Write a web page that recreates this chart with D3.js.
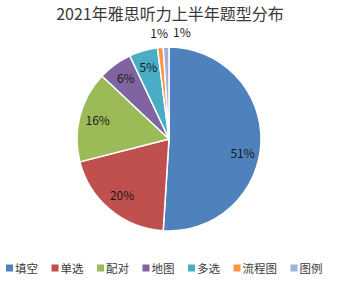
<!DOCTYPE html>
<html>
<head>
<meta charset="utf-8">
<script src="https://cdn.jsdelivr.net/npm/d3@7"></script>
<style>
  html, body { margin: 0; padding: 0; background: #fff; }
  svg { display: block; font-family: "Noto Sans CJK SC", "Noto Sans", sans-serif; }
</style>
</head>
<body>
<svg id="chart" width="344" height="281"></svg>
<script>
//---DATA
var title = '2021年雅思听力上半年题型分布';
var categories = ['填空', '单选', '配对', '地图', '多选', '流程图', '图例'];
var shares = [51, 20, 16, 6, 5, 1, 1];
var colors = ['#4F81BD', '#C0504D', '#9BBB59', '#8064A2', '#4BACC6', '#F79646', '#9DB3DA'];

(function() {
  'use strict';

  var cx = 169,
    cy = 139,
    r = 92;

  var svg = d3.select('#chart');

  //---TITLE
  svg.append('text')
    .attr('x', 170)
    .attr('y', 20)
    .attr('text-anchor', 'middle')
    .style('font-size', '16px')
    .style('fill', '#3a3a3a')
    .text(title);

  //---PIE
  var data = categories.map(function(c, i) {
    return { name: c, value: shares[i], color: colors[i] };
  });

  var pie = d3.pie()
    .value(function(d) { return d.value; })
    .sort(null);

  var arcs = pie(data);

  var arc = d3.arc().innerRadius(0).outerRadius(r);
  var arc_in = d3.arc().innerRadius(r * 0.8).outerRadius(r * 0.8);
  var arc_out = d3.arc().innerRadius(r * 1.15).outerRadius(r * 1.15);

  var pie_g = svg.append('g')
    .attr('transform', 'translate(' + cx + ',' + cy + ')');

  pie_g.selectAll('path')
    .data(arcs)
    .enter()
    .append('path')
    .attr('d', arc)
    .style('fill', function(d) { return d.data.color; })
    .style('stroke', '#fff')
    .style('stroke-width', 1.5);

  //---LABELS (small slices go outside, spread left/right of the top)
  var out_count = 0;
  pie_g.selectAll('text.lbl')
    .data(arcs)
    .enter()
    .append('text')
    .attr('class', 'lbl')
    .each(function(d) {
      var t = d3.select(this);
      var p;
      if (d.data.value < 3) {
        p = arc_out.centroid(d);
        var left = out_count % 2 === 0;
        t.attr('x', left ? -1 : 4)
          .attr('y', p[1] + 4)
          .attr('text-anchor', left ? 'end' : 'start');
        out_count++;
      } else {
        p = arc_in.centroid(d);
        // biggest slice label sits a bit lower (excel best fit)
        if (d.endAngle - d.startAngle > Math.PI) p[1] += 13;
        t.attr('x', p[0])
          .attr('y', p[1] + 4)
          .attr('text-anchor', 'middle');
      }
    })
    .style('font-size', '12px')
    .style('fill', '#1a1a1a')
    .text(function(d) { return d.data.value + '%'; });

  //---LEGEND
  var leg_g = svg.append('g')
    .attr('transform', 'translate(6,272)');

  var xpos = 0;
  data.forEach(function(d) {
    var item = leg_g.append('g')
      .attr('transform', 'translate(' + xpos + ',0)');
    item.append('rect')
      .attr('x', 0)
      .attr('y', -7.5)
      .attr('width', 7)
      .attr('height', 7)
      .style('fill', d.color);
    var txt = item.append('text')
      .attr('x', 9)
      .attr('y', 1)
      .style('font-size', '11.5px')
      .style('fill', '#3a3a3a')
      .text(d.name);
    xpos += 9 + txt.node().getComputedTextLength() + 13.5;
  });

})();
</script>
</body>
</html>
